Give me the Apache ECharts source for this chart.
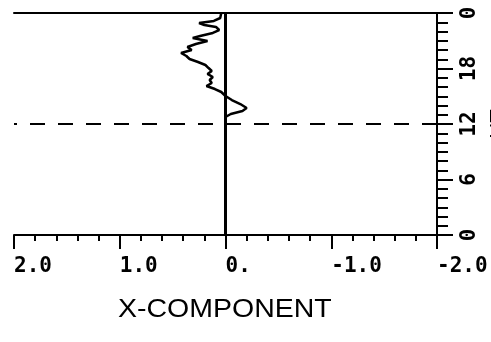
<!DOCTYPE html>
<html>
<head>
<meta charset="utf-8">
<script src="https://cdn.jsdelivr.net/npm/echarts@6/dist/echarts.min.js"></script>
<style>
  html, body { margin: 0; padding: 0; background: #fff; }
  #chart { width: 491px; height: 342px; }
</style>
</head>
<body>
<div id="chart"></div>
<script>
// Hour of day (0-24) for each sample of the profile, top of the panel first
const hours = [24.0, 23.9, 23.46, 23.14, 22.92, 22.7, 22.49, 22.16, 21.84, 21.51, 21.3,
  20.97, 20.65, 20.32, 20.0, 19.68, 19.35, 19.03, 18.7, 18.38, 18.05, 17.73,
  17.41, 17.08, 16.76, 16.43, 16.11, 15.78, 15.46, 15.03, 14.59, 14.16, 13.73,
  13.41, 13.08, 12.76, 12.4, 12.0, 6.0, 0.0];
// X-component value at each hour
const xComponent = [0.04, 0.04, 0.05, 0.11, 0.25, 0.2, 0.09, 0.06, 0.12, 0.24, 0.31,
  0.17, 0.28, 0.36, 0.32, 0.42, 0.37, 0.34, 0.26, 0.19, 0.16, 0.13,
  0.17, 0.12, 0.15, 0.13, 0.18, 0.10, 0.04, 0.0, -0.06, -0.14, -0.20,
  -0.16, -0.05, 0.0, 0.0, 0.0, 0.0, 0.0];

const xTicks = [-2, -1, 0, 1, 2];
const xTickLabels = ['-2.0', '-1.0', '0.', '1.0', '2.0'];
const hourTicks = [0, 6, 12, 18, 24];
const hourTickLabels = ['0', '6', '12', '18', '0'];
const referenceHour = 12;
const axisTitle = 'X-COMPONENT';
const hourAxisTitle = 'UT';

const chart = echarts.init(document.getElementById('chart'), null, { renderer: 'canvas' });

const labelFont = { fontFamily: 'DejaVu Sans Mono', fontWeight: 'bold', fontSize: 21, color: '#000' };

chart.setOption({
  animation: false,
  backgroundColor: '#fff',
  grid: { left: 14, right: 54, top: 13, bottom: 107, containLabel: false, outerBoundsMode: 'none' },
  xAxis: [{
    type: 'value', min: -2, max: 2, interval: 1, inverse: true, position: 'bottom',
    axisLine: { show: true, onZero: false, lineStyle: { color: '#000', width: 2 } },
    axisTick: { show: true, inside: false, length: 14, lineStyle: { color: '#000', width: 2 } },
    minorTick: { show: true, splitNumber: 5, length: 6, lineStyle: { color: '#000', width: 2 } },
    splitLine: { show: false },
    axisLabel: Object.assign({
      margin: 21, align: 'left', showMinLabel: true, showMaxLabel: true,
      formatter: v => xTickLabels[xTicks.indexOf(Math.round(v))] ?? ''
    }, labelFont)
  }, {
    type: 'value', min: -2, max: 2, inverse: true, position: 'top',
    axisLine: { show: true, onZero: false, lineStyle: { color: '#000', width: 2 } },
    axisTick: { show: false }, axisLabel: { show: false }, splitLine: { show: false }
  }],
  yAxis: [{
    type: 'value', min: 0, max: 24, interval: 6, position: 'right',
    name: hourAxisTitle, nameLocation: 'middle', nameRotate: 90, nameGap: 44,
    nameTextStyle: { fontFamily: 'Liberation Sans', fontSize: 22, color: '#000' },
    axisLine: { show: true, onZero: false, lineStyle: { color: '#000', width: 2 } },
    axisTick: { show: true, inside: false, length: 16, lineStyle: { color: '#000', width: 2 } },
    minorTick: { show: true, splitNumber: 6, length: 11, lineStyle: { color: '#000', width: 2 } },
    splitLine: { show: false },
    axisLabel: Object.assign({
      margin: 22, rotate: 90, showMinLabel: true, showMaxLabel: true,
      formatter: v => hourTickLabels[hourTicks.indexOf(Math.round(v))] ?? ''
    }, labelFont)
  }],
  graphic: [{
    type: 'text', x: 118, y: 298, scaleX: 1.14,
    style: { text: axisTitle, font: '25px "Liberation Sans"', fill: '#000', textVerticalAlign: 'top' }
  }],
  series: [{
    type: 'line',
    data: hours.map((h, i) => [xComponent[i], h]),
    showSymbol: false,
    lineStyle: { color: '#000', width: 2.5 },
    markLine: {
      silent: true, symbol: 'none', label: { show: false },
      data: [
        { xAxis: 0, lineStyle: { color: '#000', width: 3, type: 'solid' } },
        { yAxis: referenceHour, lineStyle: { color: '#000', width: 2, type: [15, 13] } }
      ]
    }
  }]
});
</script>
</body>
</html>
